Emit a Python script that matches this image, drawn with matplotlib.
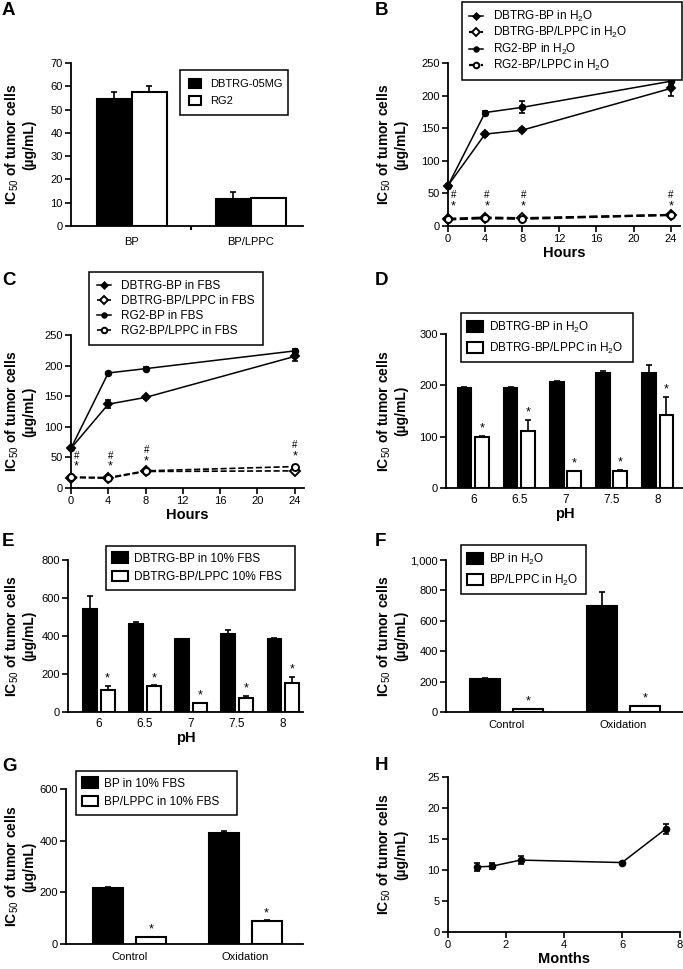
import numpy as np
import matplotlib
matplotlib.use("Agg")
import matplotlib.pyplot as plt
from matplotlib.ticker import FuncFormatter
from matplotlib.transforms import blended_transform_factory

plt.rcParams['font.family'] = ['Liberation Sans', 'DejaVu Sans']
plt.rcParams['mathtext.fontset'] = 'custom'
plt.rcParams['mathtext.rm'] = 'Liberation Sans'
plt.rcParams['mathtext.bf'] = 'Liberation Sans:bold'

# ---- data ----
# A
a_groups = ['BP', 'BP/LPPC']
a_dbtrg = [54.5, 11.5]
a_dbtrg_err = [3.2, 3.3]
a_rg2 = [57.5, 12.0]
a_rg2_err = [2.5, 0.0]

# B, C (hours)
hours = [0, 4, 8, 24]
b_dbtrg_bp = [62, 141, 147, 211]
b_dbtrg_bp_err = [2, 3, 3, 12]
b_dbtrg_lppc = [11, 13, 12, 17]
b_dbtrg_lppc_err = [1, 1, 1, 1]
b_rg2_bp = [62, 174, 182, 222]
b_rg2_bp_err = [2, 2, 9, 5]
b_rg2_lppc = [10, 12, 11, 17]
b_rg2_lppc_err = [1, 1, 1, 1]
b_marks_x = [0.6, 4.2, 8.1, 24]
b_hash_y = [47, 47, 47, 47]
b_star_y = [30, 30, 30, 30]

c_dbtrg_bp = [65, 137, 148, 215]
c_dbtrg_bp_err = [2, 7, 2, 8]
c_dbtrg_lppc = [17, 16, 27, 28]
c_dbtrg_lppc_err = [2, 2, 2, 2]
c_rg2_bp = [65, 188, 195, 224]
c_rg2_bp_err = [2, 2, 2, 3]
c_rg2_lppc = [18, 17, 28, 35]
c_rg2_lppc_err = [2, 2, 2, 2]
c_marks_x = [0.6, 4.2, 8.1, 24]
c_hash_y = [52, 52, 62, 70]
c_star_y = [35, 35, 44, 52]

# D, E (pH)
ph = ['6', '6.5', '7', '7.5', '8']
d_bp = [194, 195, 207, 225, 225]
d_bp_err = [2, 2, 1, 3, 15]
d_lppc = [99, 111, 33, 34, 143]
d_lppc_err = [3, 22, 1, 1, 35]

e_bp = [542, 463, 384, 410, 384]
e_bp_err = [68, 10, 2, 20, 3]
e_lppc = [116, 137, 47, 74, 153]
e_lppc_err = [20, 3, 2, 10, 30]

# F, G
fg_groups = ['Control', 'Oxidation']
f_bp = [217, 697]
f_bp_err = [7, 93]
f_lppc = [20, 40]
f_lppc_err = [2, 2]

g_bp = [217, 430]
g_bp_err = [4, 9]
g_lppc = [27, 89]
g_lppc_err = [1, 2]

# H
months = [1, 1.5, 2.5, 6, 7.5]
h_vals = [10.5, 10.6, 11.6, 11.2, 16.6]
h_err = [0.6, 0.5, 0.6, 0.1, 0.8]

W, H = 683, 969
fig = plt.figure(figsize=(W / 100, H / 100), dpi=100)

YLAB = r'IC$_{50}$ of tumor cells' + '\n(µg/mL)'


def make_ax(l, r, t, b):
    ax = fig.add_axes([l / W, 1 - b / H, (r - l) / W, (b - t) / H])
    for s in ['top', 'right']:
        ax.spines[s].set_visible(False)
    for s in ['left', 'bottom']:
        ax.spines[s].set_linewidth(1.3)
    ax.tick_params(direction='out', length=4, width=1.2, labelsize=8, pad=2)
    ax.set_ylabel(YLAB, fontsize=10, fontweight='bold', linespacing=1.1)
    # right edge of the rotated label, in figure pixels
    lab_x = 36 if l < 300 else 408
    ax.yaxis.set_label_coords(lab_x / W, 0.5,
                              transform=blended_transform_factory(fig.transFigure, ax.transAxes))
    return ax


def legend_at(ax, x, y, w=None, fs=8.5, **kw):
    if w is None:
        anchor = (x / W, 1 - y / H)
    else:
        anchor = (x / W, 1 - y / H - 0.001, w / W, 0.001)
        kw['mode'] = 'expand'
    leg = ax.legend(loc='upper left', bbox_to_anchor=anchor,
                    bbox_transform=fig.transFigure, borderaxespad=0,
                    fancybox=False, framealpha=1, edgecolor='black',
                    fontsize=fs, **kw)
    leg.get_frame().set_linewidth(1.1)
    return leg


def bars(ax, x, vals, errs, off, width, fc, label):
    ax.bar(x + off, vals, width, color=fc, edgecolor='black', linewidth=1.5,
           zorder=2, label=label)
    ax.errorbar(x + off, vals, yerr=[np.zeros(len(vals)), errs], fmt='none',
                ecolor='black', elinewidth=1.2, capsize=2.5, capthick=1.2,
                zorder=3)


def stars(ax, x, vals, errs):
    for xi, v, e in zip(x, vals, errs):
        ax.annotate('*', (xi, v + e), xytext=(0, 1), textcoords='offset points',
                    ha='center', va='bottom', fontsize=9)


def series(ax, x, vals, errs, marker, open_, ls, label, dash_lw=1.6):
    mfc = 'white' if open_ else 'black'
    ax.errorbar(x, vals, yerr=errs, fmt='none', ecolor='black',
                elinewidth=1.2, capsize=2.5, capthick=1.2, zorder=3,
                clip_on=False)
    ax.plot(x, vals, ls=ls, color='black', lw=dash_lw if open_ else 1.1,
            marker=marker, ms=5 if open_ else 4, mfc=mfc, mec='black',
            mew=1.4, label=label, zorder=4, clip_on=False)


BAR_LEG = dict(handlelength=1.3, handleheight=1.0, handletextpad=0.5,
               borderpad=0.55, labelspacing=0.5)

# ---- A ----
ax = make_ax(71, 303, 63, 226)
xa = np.arange(len(a_groups))
bars(ax, xa, a_dbtrg, a_dbtrg_err, -0.147, 0.294, 'black', 'DBTRG-05MG')
bars(ax, xa, a_rg2, a_rg2_err, 0.147, 0.294, 'white', 'RG2')
ax.set_xlim(-0.51, 1.44)
ax.set_ylim(0, 70)
ax.set_yticks(range(0, 71, 10))
ax.set_xticks(xa)
ax.set_xticklabels(a_groups, fontsize=8)
ax.tick_params(axis='x', length=0, pad=8)
ax.set_xticks([0.5], minor=True)
ax.tick_params(axis='x', which='minor', length=3, width=1.5)
legend_at(ax, 180, 70, w=108, fs=8, handlelength=1.1, handleheight=0.9,
          borderpad=0.8, labelspacing=0.6)

# ---- B ----
ax = make_ax(448, 680, 63, 226)
series(ax, hours, b_dbtrg_bp, b_dbtrg_bp_err, 'D', False, '-', r'DBTRG-BP in H$_2$O')
series(ax, hours, b_dbtrg_lppc, b_dbtrg_lppc_err, 'D', True, '--', r'DBTRG-BP/LPPC in H$_2$O')
series(ax, hours, b_rg2_bp, b_rg2_bp_err, 'o', False, '-', r'RG2-BP in H$_2$O')
series(ax, hours, b_rg2_lppc, b_rg2_lppc_err, 'o', True, '--', r'RG2-BP/LPPC in H$_2$O')
for xm, yh, ys in zip(b_marks_x, b_hash_y, b_star_y):
    ax.text(xm, yh, '#', ha='center', va='center', fontsize=7)
    ax.text(xm, ys, '*', ha='center', va='center', fontsize=9)
ax.set_xlim(0, 25)
ax.set_ylim(0, 250)
ax.set_xticks(range(0, 25, 4))
ax.set_yticks(range(0, 251, 50))
ax.set_xlabel('Hours', fontsize=10.5, fontweight='bold', labelpad=1)
legend_at(ax, 462, 2, w=220, handlelength=1.2, borderpad=0.6,
          labelspacing=0.1, markerscale=0.8)

# ---- C ----
ax = make_ax(71, 304, 335, 488)
series(ax, hours, c_dbtrg_bp, c_dbtrg_bp_err, 'D', False, '-', 'DBTRG-BP in FBS', 1.2)
series(ax, hours, c_dbtrg_lppc, c_dbtrg_lppc_err, 'D', True, '--', 'DBTRG-BP/LPPC in FBS', 1.2)
series(ax, hours, c_rg2_bp, c_rg2_bp_err, 'o', False, '-', 'RG2-BP in FBS', 1.2)
series(ax, hours, c_rg2_lppc, c_rg2_lppc_err, 'o', True, '--', 'RG2-BP/LPPC in FBS', 1.2)
for xm, yh, ys in zip(c_marks_x, c_hash_y, c_star_y):
    ax.text(xm, yh, '#', ha='center', va='center', fontsize=7)
    ax.text(xm, ys, '*', ha='center', va='center', fontsize=9)
ax.set_xlim(0, 25)
ax.set_ylim(0, 250)
ax.set_xticks(range(0, 25, 4))
ax.set_yticks(range(0, 251, 50))
ax.set_xlabel('Hours', fontsize=10.5, fontweight='bold', labelpad=1)
legend_at(ax, 89, 272, w=174, handlelength=1.2, borderpad=0.7,
          labelspacing=0.25, markerscale=0.8)

# ---- D ----
ax = make_ax(446, 684, 334, 488)
xd = np.arange(len(ph))
bars(ax, xd, d_bp, d_bp_err, -0.19, 0.3, 'black', r'DBTRG-BP in H$_2$O')
bars(ax, xd, d_lppc, d_lppc_err, 0.19, 0.3, 'white', r'DBTRG-BP/LPPC in H$_2$O')
stars(ax, xd + 0.19, d_lppc, d_lppc_err)
ax.set_xlim(-0.59, 4.57)
ax.set_ylim(0, 300)
ax.set_yticks(range(0, 301, 100))
ax.set_xticks(xd)
ax.set_xticklabels(ph, fontsize=8.5)
ax.tick_params(axis='x', length=0, pad=4)
ax.set_xlabel('pH', fontsize=10.5, fontweight='bold', labelpad=1)
legend_at(ax, 461, 313, w=172, **BAR_LEG)

# ---- E ----
ax = make_ax(68, 303, 560, 712)
bars(ax, xd, e_bp, e_bp_err, -0.19, 0.3, 'black', 'DBTRG-BP in 10% FBS')
bars(ax, xd, e_lppc, e_lppc_err, 0.19, 0.3, 'white', 'DBTRG-BP/LPPC 10% FBS')
stars(ax, xd + 0.19, e_lppc, e_lppc_err)
ax.set_xlim(-0.67, 4.43)
ax.set_ylim(0, 800)
ax.set_yticks(range(0, 801, 200))
ax.set_xticks(xd)
ax.set_xticklabels(ph, fontsize=8.5)
ax.tick_params(axis='x', length=0, pad=4)
ax.set_xlabel('pH', fontsize=10.5, fontweight='bold', labelpad=1)
legend_at(ax, 106, 546, w=189, **BAR_LEG)

# ---- F ----
ax = make_ax(446, 684, 560, 712)
xf = np.arange(len(fg_groups))
bars(ax, xf, f_bp, f_bp_err, -0.185, 0.26, 'black', r'BP in H$_2$O')
bars(ax, xf, f_lppc, f_lppc_err, 0.185, 0.26, 'white', r'BP/LPPC in H$_2$O')
stars(ax, xf + 0.185, f_lppc, f_lppc_err)
ax.set_xlim(-0.52, 1.52)
ax.set_ylim(0, 1000)
ax.set_yticks(range(0, 1001, 200))
ax.yaxis.set_major_formatter(FuncFormatter(lambda v, p: f'{int(v):,}'))
ax.set_xticks(xf)
ax.set_xticklabels(fg_groups, fontsize=8)
ax.tick_params(axis='x', length=0, pad=6)
legend_at(ax, 461, 545, w=125, **BAR_LEG)

# ---- G ----
ax = make_ax(66, 303, 789, 944)
bars(ax, xf, g_bp, g_bp_err, -0.185, 0.26, 'black', 'BP in 10% FBS')
bars(ax, xf, g_lppc, g_lppc_err, 0.185, 0.26, 'white', 'BP/LPPC in 10% FBS')
stars(ax, xf + 0.185, g_lppc, g_lppc_err)
ax.set_xlim(-0.55, 1.5)
ax.set_ylim(0, 600)
ax.set_yticks(range(0, 601, 200))
ax.set_xticks(xf)
ax.set_xticklabels(fg_groups, fontsize=8)
ax.tick_params(axis='x', length=0, pad=6)
legend_at(ax, 76, 771, w=161, **BAR_LEG)

# ---- H ----
ax = make_ax(448, 680, 777, 932)
ax.errorbar(months, h_vals, yerr=h_err, fmt='-', color='black', lw=1.1,
            marker='o', ms=4.5, elinewidth=1.2, capsize=2.5, capthick=1.2)
ax.set_xlim(0, 8)
ax.set_ylim(0, 25)
ax.set_xticks(range(0, 9, 2))
ax.set_yticks(range(0, 26, 5))
ax.set_xlabel('Months', fontsize=10.5, fontweight='bold', labelpad=1)

# panel letters
for letter, (px, py) in zip('ABCDEFGH', [(2, 2), (375, 2), (2, 272), (375, 272),
                                          (2, 533), (375, 533), (2, 758), (375, 757)]):
    fig.text(px / W, 1 - py / H, letter, fontsize=13.5, fontweight='bold',
             ha='left', va='top')

fig.savefig('out.png', dpi=100)
